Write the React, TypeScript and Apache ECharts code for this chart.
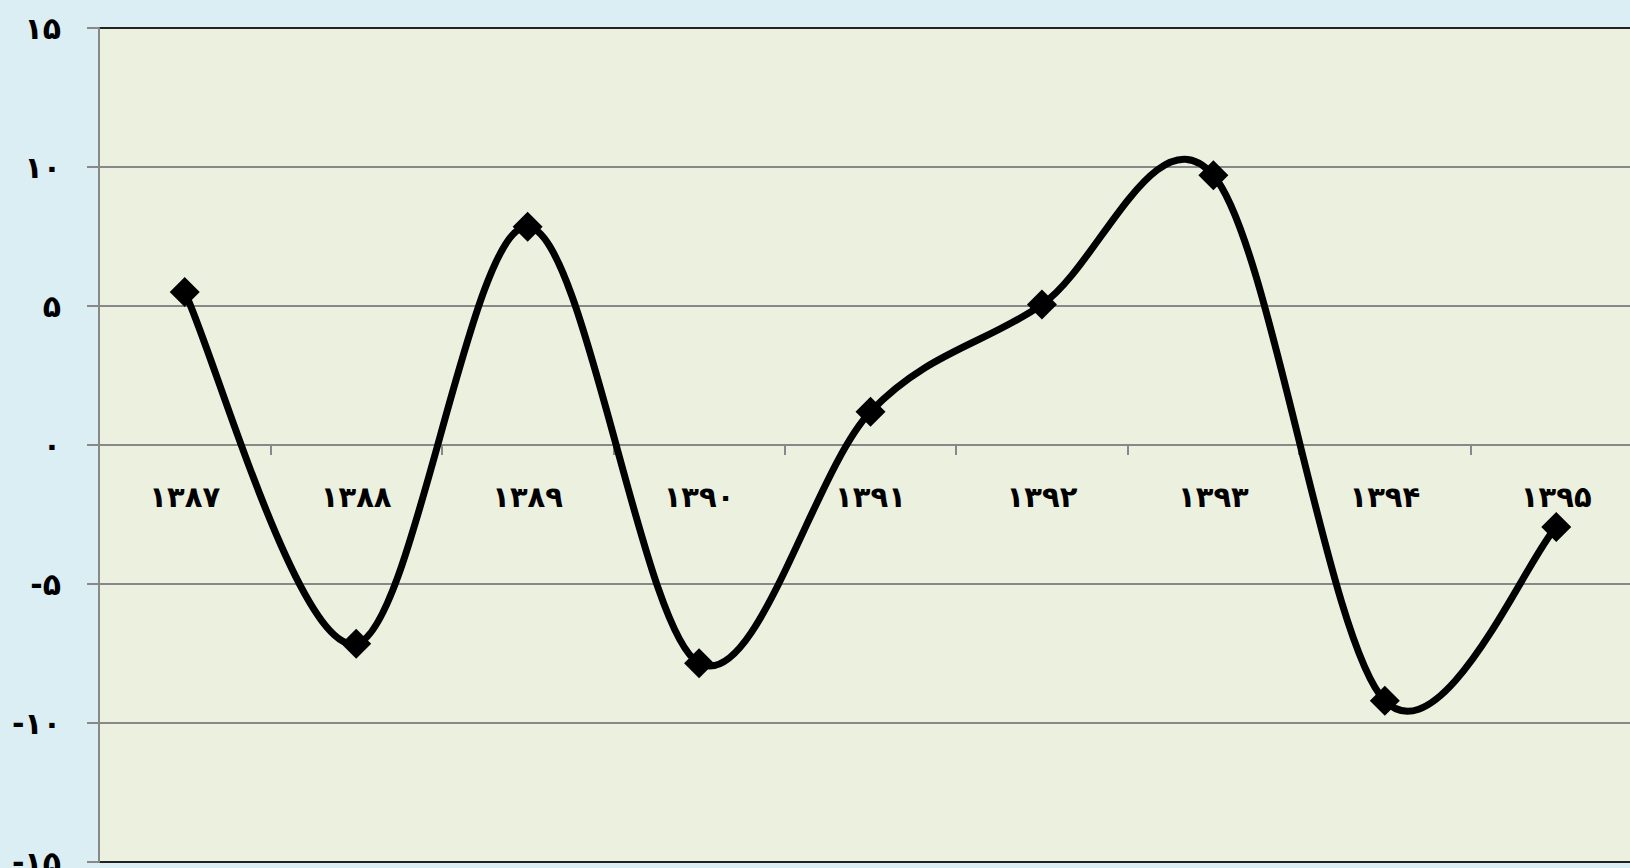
import React, { useEffect, useRef } from "react";
import * as echarts from "echarts";

const categories = ["۱۳۸۷", "۱۳۸۸", "۱۳۸۹", "۱۳۹۰", "۱۳۹۱", "۱۳۹۲", "۱۳۹۳", "۱۳۹۴", "۱۳۹۵"];
const values = [5.5, -7.15, 7.85, -7.85, 1.2, 5.05, 9.7, -9.2, -2.95];
const yTickLabels: Record<string, string> = {
  "15": "۱۵",
  "10": "۱۰",
  "5": "۵",
  "0": "۰",
  "-5": "-۵",
  "-10": "-۱۰",
  "-15": "-۱۵",
};

export default function App() {
  const ref = useRef<HTMLDivElement>(null);
  useEffect(() => {
    if (!ref.current) return;
    const chart = echarts.init(ref.current, null, { renderer: "svg" });
    const font = "DejaVu Sans";
    const renderCurve = (params: any, api: any) => {
      if (params.dataIndex !== 0) return null;
      const pts = values.map((v, i) => api.coord([i, v]));
      let d = `M${pts[0][0]},${pts[0][1]}`;
      for (let i = 0; i < pts.length - 1; i++) {
        const p0 = pts[i - 1] || pts[i];
        const p1 = pts[i];
        const p2 = pts[i + 1];
        const p3 = pts[i + 2] || pts[i + 1];
        const c1 = [p1[0] + (p2[0] - p0[0]) / 6, p1[1] + (p2[1] - p0[1]) / 6];
        const c2 = [p2[0] - (p3[0] - p1[0]) / 6, p2[1] - (p3[1] - p1[1]) / 6];
        d += ` C${c1[0]},${c1[1]} ${c2[0]},${c2[1]} ${p2[0]},${p2[1]}`;
      }
      return {
        type: "path",
        shape: { pathData: d },
        style: { fill: "none", stroke: "#000", lineWidth: 7, lineJoin: "round" },
      };
    };
    chart.setOption({
      animation: false,
      backgroundColor: "#DAEEF3",
      grid: {
        show: true,
        left: 99,
        top: 28,
        bottom: 6,
        right: -12,
        backgroundColor: "#EBF1DE",
        borderWidth: 0,
        containLabel: false,
        outerBoundsMode: "none",
      },
      xAxis: [
        {
          type: "category",
          data: categories,
          axisLine: { onZero: true, lineStyle: { color: "#888888", width: 2 } },
          axisTick: { show: true, length: 10, lineStyle: { color: "#888888", width: 2 } },
          axisLabel: { show: false },
          splitLine: { show: false },
        },
        {
          type: "category",
          data: categories,
          position: "bottom",
          offset: -417,
          axisLine: { show: false, onZero: false },
          axisTick: { show: false },
          axisLabel: {
            margin: 37,
            color: "#000",
            fontFamily: font,
            fontWeight: "bold",
            fontSize: 29,
          },
          splitLine: { show: false },
        },
      ],
      yAxis: {
        type: "value",
        min: -15,
        max: 15,
        interval: 5,
        axisLine: { show: true, lineStyle: { color: "#888888", width: 2 } },
        axisTick: { show: true, length: 12, lineStyle: { color: "#888888", width: 2 } },
        axisLabel: {
          margin: 38,
          color: "#000",
          fontFamily: font,
          fontWeight: "bold",
          fontSize: 30,
          formatter: (v: number) => yTickLabels[String(v)] ?? String(v),
        },
        splitLine: {
          show: true,
          lineStyle: {
            color: ["#222222", "#888888", "#888888", "#888888", "#888888", "#888888", "#222222"],
            width: 2,
          },
        },
      },
      series: [
        {
          type: "custom",
          data: [[0, 0]],
          renderItem: renderCurve,
          silent: true,
          z: 2,
        },
        {
          type: "line",
          data: values,
          symbol: "diamond",
          symbolSize: 30,
          itemStyle: { color: "#000" },
          lineStyle: { opacity: 0 },
          z: 3,
        },
      ],
    });
    return () => chart.dispose();
  }, []);
  return (
    <div
      ref={ref}
      style={{ position: "fixed", left: 0, top: 0, width: 1630, height: 868 }}
    />
  );
}
